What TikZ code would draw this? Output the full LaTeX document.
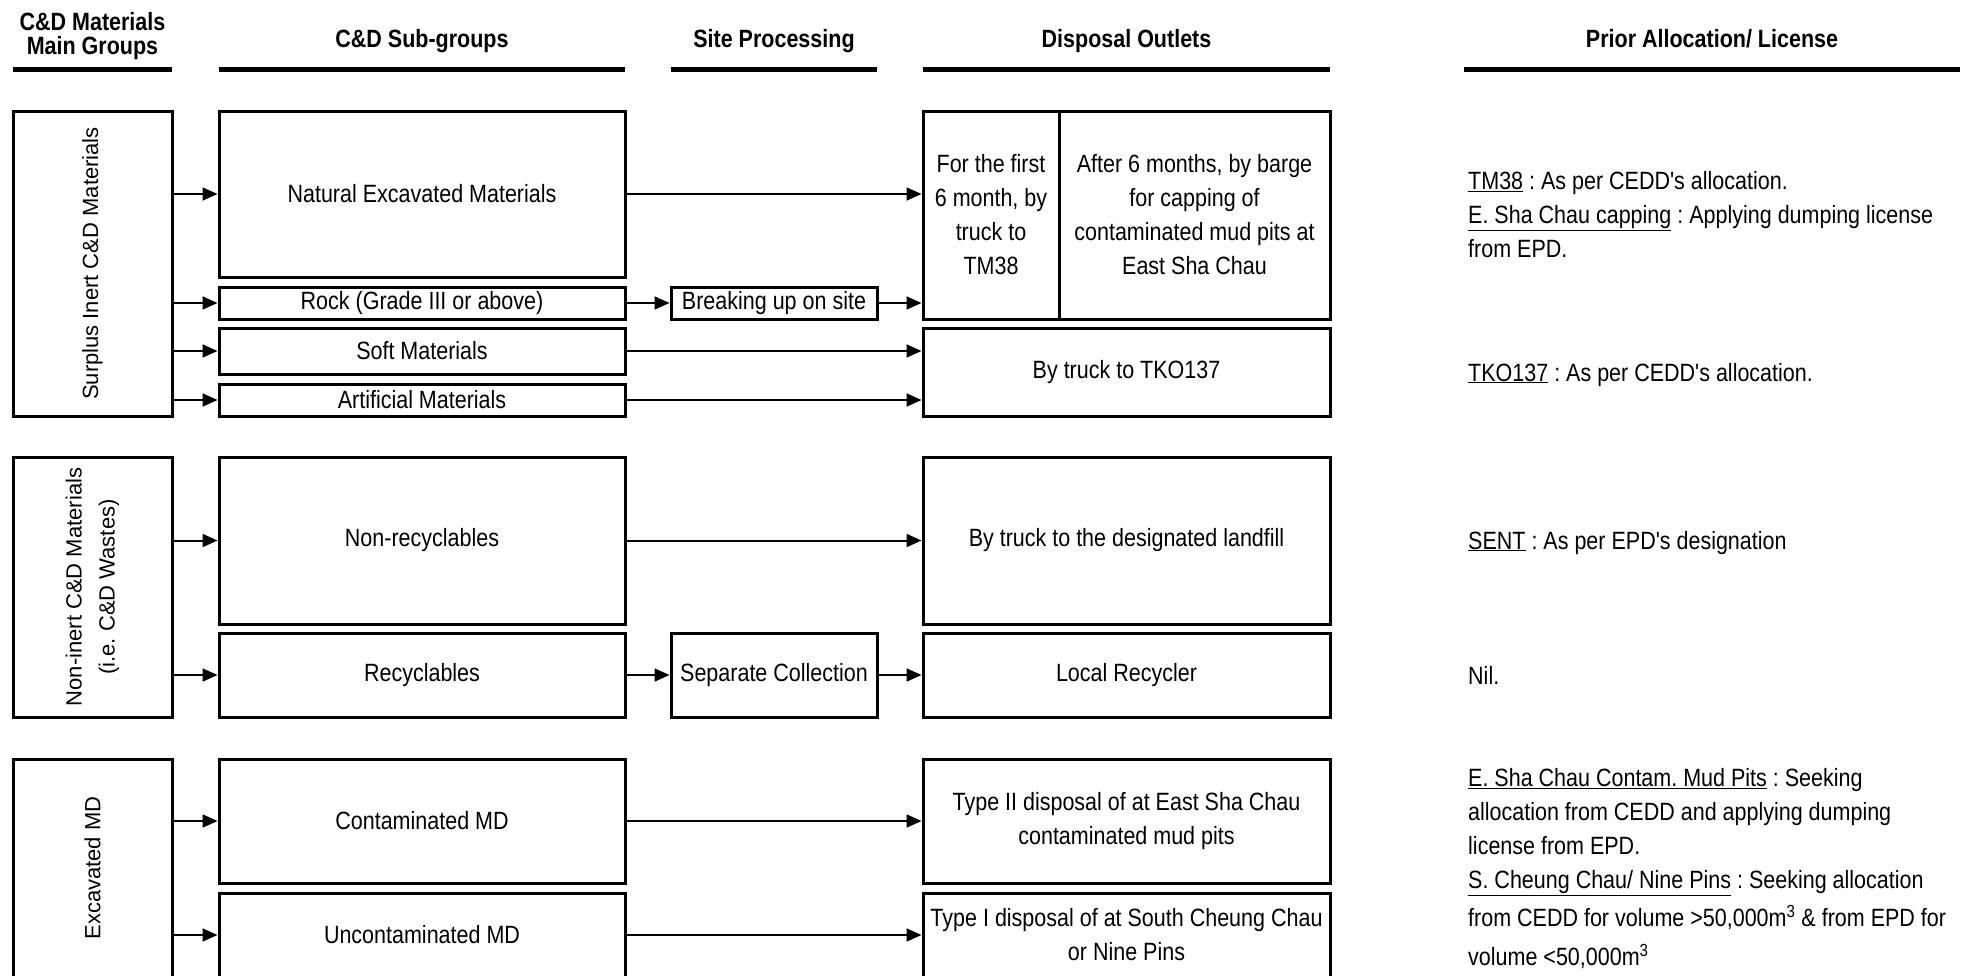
\documentclass[tikz,border=0pt]{standalone}
\usepackage{fontspec}
\newfontfamily\narrowfont{Liberation Sans}[FakeStretch=0.86]
\newfontfamily\widefont{Liberation Sans}
\usetikzlibrary{arrows.meta}

\tikzset{
  cdbox/.style={draw, line width=3pt, inner sep=0pt, align=center},
  mainbox/.style={cdbox, minimum width=159pt},
  subbox/.style={cdbox, minimum width=406pt},
  sitebox/.style={cdbox, minimum width=206pt},
  outbox/.style={cdbox, minimum width=407pt},
  vlabel/.style={rotate=90, align=center, inner sep=0pt, font=\widefont\fontsize{22}{33}\selectfont},
  hdr/.style={inner sep=0pt, align=center, font=\narrowfont\bfseries\fontsize{25}{24}\selectfont},
  allocnote/.style={inner sep=0pt, align=left},
  hbar/.style={line width=5pt},
  arr/.style={line width=2pt, -{Triangle[length=15pt,width=13pt]}}
}

\begin{document}
\frenchspacing
\begin{tikzpicture}[x=1pt,y=-1pt,font=\narrowfont\fontsize{25}{34}\selectfont]
	\useasboundingbox (0,0) rectangle (1971,975);
	\clip (0,0) rectangle (1971,975);

	% headings
	\node[hdr, anchor=north] (hmain) at (92.5,12.5) {C\&D Materials\\Main Groups};
	\node[hdr, anchor=base] (hsub) at (422,47) {C\&D Sub-groups};
	\node[hdr, anchor=base] (hsite) at (774,47) {Site Processing};
	\node[hdr, anchor=base] (hout) at (1126.5,47) {Disposal Outlets};
	\node[hdr, anchor=base] (halloc) at (1712,47) {Prior Allocation/ License};
	\draw[hbar] (13,69.5) -- (172,69.5);
	\draw[hbar] (219,69.5) -- (625,69.5);
	\draw[hbar] (671,69.5) -- (877,69.5);
	\draw[hbar] (923,69.5) -- (1330,69.5);
	\draw[hbar] (1464,69.5) -- (1960,69.5);

	% surplus inert
	\node[mainbox, minimum height=305pt] (g1) at (92.5,263.5) {};
	\node[vlabel] (g1t) at (g1) {Surplus Inert C\&D Materials};
	\node[subbox, minimum height=166pt] (nat) at (422,194) {Natural Excavated Materials};
	\node[subbox, minimum height=32pt] (rock) at (422,303) {Rock (Grade III or above)};
	\node[subbox, minimum height=46pt] (soft) at (422,351) {Soft Materials};
	\node[subbox, minimum height=32pt] (art) at (422,400) {Artificial Materials};
	\node[sitebox, minimum height=32pt] (brk) at (774,303) {Breaking up on site};
	\node[cdbox, minimum width=136pt, minimum height=208pt] (d1a) at (991,215) {For the first\\6 month, by\\truck to\\TM38};
	\node[cdbox, minimum width=271pt, minimum height=208pt] (d1b) at (1194.5,215) {After 6 months, by barge\\for capping of\\contaminated mud pits at\\East Sha Chau};
	\node[outbox, minimum height=88pt] (tko) at (1126.5,372) {By truck to TKO137};

	\draw[arr] (g1.east |- nat.west) -- (nat.west);
	\draw[arr] (g1.east |- rock.west) -- (rock.west);
	\draw[arr] (g1.east |- soft.west) -- (soft.west);
	\draw[arr] (g1.east |- art.west) -- (art.west);
	\draw[arr] (nat.east) -- (nat.east -| d1a.west);
	\draw[arr] (rock.east) -- (brk.west);
	\draw[arr] (brk.east) -- (brk.east -| d1a.west);
	\draw[arr] (soft.east) -- (soft.east -| tko.west);
	\draw[arr] (art.east) -- (art.east -| tko.west);

	% non-inert
	\node[mainbox, minimum height=260pt] (g2) at (92.5,587) {};
	\node[vlabel] (g2t) at (g2) {Non-inert C\&D Materials\\(i.e. C\&D Wastes)};
	\node[subbox, minimum height=167pt] (nonrec) at (422,540.5) {Non-recyclables};
	\node[subbox, minimum height=84pt] (recy) at (422,675) {Recyclables};
	\node[sitebox, minimum height=84pt] (sep) at (774,675) {Separate Collection};
	\node[outbox, minimum height=167pt] (fill) at (1126.5,540.5) {By truck to the designated landfill};
	\node[outbox, minimum height=84pt] (recyc) at (1126.5,675) {Local Recycler};

	\draw[arr] (g2.east |- nonrec.west) -- (nonrec.west);
	\draw[arr] (g2.east |- recy.west) -- (recy.west);
	\draw[arr] (nonrec.east) -- (fill.west);
	\draw[arr] (recy.east) -- (sep.west);
	\draw[arr] (sep.east) -- (recyc.west);

	% excavated MD
	\node[mainbox, minimum height=218pt] (g3) at (92.5,868) {};
	\node[vlabel] (g3t) at (g3) {Excavated MD};
	\node[subbox, minimum height=124pt] (cont) at (422,821) {Contaminated MD};
	\node[subbox, minimum height=84pt] (unc) at (422,935) {Uncontaminated MD};
	\node[outbox, minimum height=124pt] (typ2) at (1126.5,821) {Type II disposal of at East Sha Chau\\contaminated mud pits};
	\node[outbox, minimum height=84pt] (typ1) at (1126.5,935) {Type I disposal of at South Cheung Chau\\or Nine Pins};

	\draw[arr] (g3.east |- cont.west) -- (cont.west);
	\draw[arr] (g3.east |- unc.west) -- (unc.west);
	\draw[arr] (cont.east) -- (typ2.west);
	\draw[arr] (unc.east) -- (typ1.west);

	% allocation notes
	\node[allocnote, anchor=north west] (n1) at (1468,171) {\underline{TM38} : As per CEDD's allocation.\\\underline{E. Sha Chau capping} : Applying dumping license\\from EPD.};
	\node[allocnote, anchor=base west] (n2) at (1468,381) {\underline{TKO137} : As per CEDD's allocation.};
	\node[allocnote, anchor=base west] (n3) at (1468,549) {\underline{SENT} : As per EPD's designation};
	\node[allocnote, anchor=base west] (n4) at (1468,684) {Nil.};
	\node[allocnote, anchor=north west] (n5) at (1468,768) {\underline{E. Sha Chau Contam. Mud Pits} : Seeking\\allocation from CEDD and applying dumping\\license from EPD.\\\underline{S. Cheung Chau/ Nine Pins} : Seeking allocation\\[4pt]from CEDD for volume >50,000m\textsuperscript{3} \& from EPD for\\[5pt]volume <50,000m\textsuperscript{3}};
\end{tikzpicture}
\end{document}
